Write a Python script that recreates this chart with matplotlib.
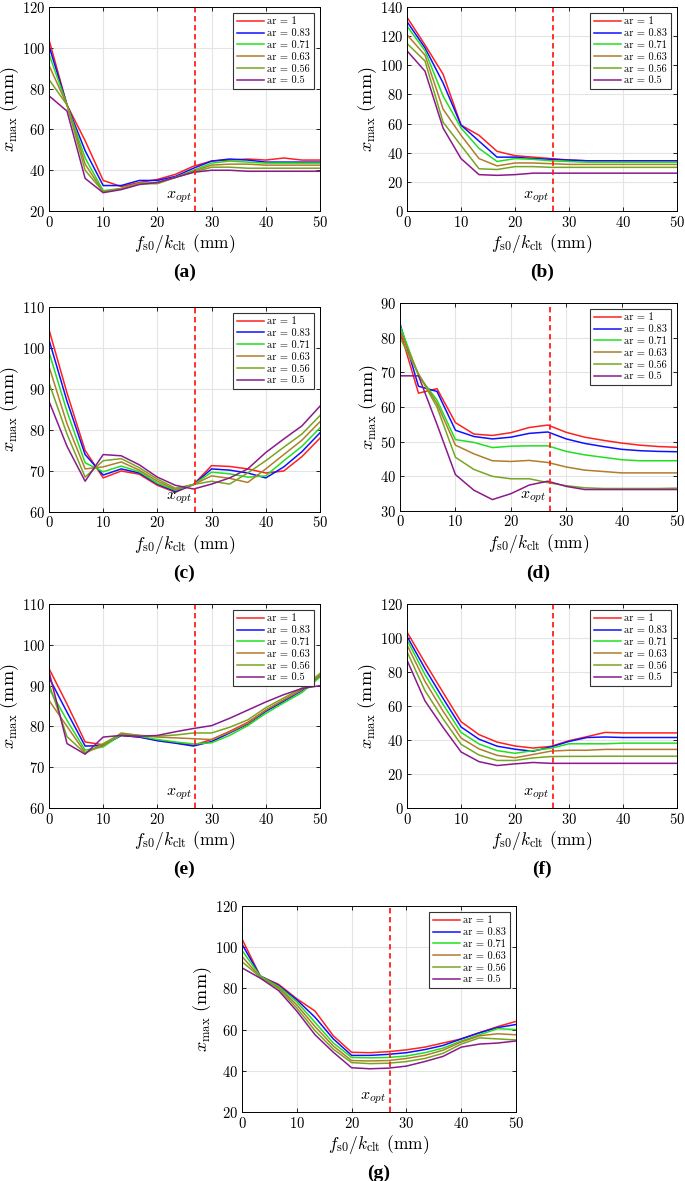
import numpy as np
import matplotlib
matplotlib.use("Agg")
import matplotlib.pyplot as plt

plt.rcParams['font.family'] = 'serif'
plt.rcParams['font.serif'] = ['cmr10']
plt.rcParams['mathtext.fontset'] = 'cm'
plt.rcParams['axes.formatter.use_mathtext'] = True

# shared abscissa f_s0/k_clt (mm)
x = [0, 3.33, 6.67, 10, 13.33, 16.67, 20, 23.33, 26.67, 30, 33.33, 36.67, 40, 43.33, 46.67, 50]
labels = ['ar = 1', 'ar = 0.83', 'ar = 0.71', 'ar = 0.63', 'ar = 0.56', 'ar = 0.5']
colors = ['#ff2020', '#1010ff', '#20e020', '#b07d2b', '#77a521', '#8b1a8b']
x_opt = 27

# (a)
a_r = [104, 72, 54.5, 35, 32, 34, 35.5, 38, 42, 44.5, 45, 45.5, 45, 46, 45, 45]
a_b = [101, 72, 49.6, 32.5, 32.5, 35, 35, 37, 41, 44.5, 45.5, 45, 44, 44, 44, 44]
a_g = [97, 72, 46, 30, 31, 33.5, 34, 36.5, 40, 43.5, 44.5, 44, 43.5, 43.5, 43.5, 43.5]
a_br = [91.5, 72, 43, 29.5, 31, 33.5, 33.5, 36.5, 39.5, 42.5, 43, 43, 42.5, 42.5, 42.5, 42.5]
a_o = [84.5, 72, 40, 29.5, 31, 33.5, 33.5, 36.5, 39, 41.5, 41.5, 41, 41, 41, 41, 41]
a_p = [76.5, 69, 36, 29, 30.5, 33, 34, 36.5, 39, 40, 40, 39.5, 39.5, 39.5, 39.5, 39.5]

# (b)
b_r = [133, 114, 94, 59, 52, 41, 38, 37, 36, 35, 34.5, 34.5, 34.5, 34.5, 34.5, 34.5]
b_b = [130, 112, 88, 59, 48, 37, 37, 36, 35.5, 35, 34.5, 34.5, 34.5, 34.5, 34.5, 34.5]
b_g = [127, 110, 79, 57, 43, 34, 36, 35.5, 34.5, 34, 33.5, 33.5, 33.5, 33.5, 33.5, 33.5]
b_br = [121, 107, 70, 52, 36, 31, 33, 33, 32.5, 32, 32, 32, 32, 32, 32, 32]
b_o = [115, 103, 61, 45, 29, 28.5, 30.5, 30.5, 30, 30, 30, 30, 30, 30, 30, 30]
b_p = [110, 96, 57, 36, 25, 24.5, 25, 26, 26, 26, 26, 26, 26, 26, 26, 26]

# (c)
c_r = [104.5, 89, 75, 68.3, 70, 69.2, 66.5, 64.8, 66.7, 71.3, 71.1, 70.5, 69.5, 70, 73.5, 78]
c_b = [102, 87, 74, 69, 70.5, 69.5, 66.8, 65, 66.7, 70.5, 70.2, 69.5, 68.3, 71, 74.7, 79.3]
c_g = [99, 84.5, 72, 69.8, 71.2, 69.8, 67, 65.3, 66.7, 69.7, 69.3, 68.5, 68.8, 72.5, 76, 80.5]
c_br = [95.5, 81.5, 70.5, 71, 72.2, 70.2, 67.5, 65.5, 66.7, 68.8, 68.2, 67.2, 70.5, 74, 77.5, 82]
c_o = [91.5, 79, 68.5, 72.5, 73, 70.8, 68, 65.8, 66.7, 67.5, 66.8, 69.5, 72.5, 75.8, 79, 83.5]
c_p = [87, 76, 67.5, 74, 73.7, 71.5, 68.5, 66.5, 65.6, 66.8, 68.3, 70.5, 74.5, 77.8, 81, 85.8]

# (d)
d_r = [82, 64, 65.3, 55.5, 52.2, 51.8, 52.6, 54.1, 54.8, 52.7, 51.3, 50.4, 49.6, 49, 48.6, 48.4]
d_b = [84, 66, 64.5, 53.3, 51.5, 50.8, 51.3, 52.4, 52.8, 50.8, 49.5, 48.6, 47.8, 47.4, 47.2, 47.1]
d_g = [83.5, 69, 62, 50.6, 49.8, 48.3, 48.7, 48.8, 48.8, 47.2, 46.2, 45.5, 44.8, 44.5, 44.5, 44.5]
d_br = [82, 69.5, 61, 49, 46.5, 44.5, 44.3, 44.6, 44, 42.7, 41.8, 41.4, 41, 41, 41, 41]
d_o = [80, 69.5, 60, 45.5, 42, 40, 39.3, 39.3, 38.2, 37.3, 36.7, 36.5, 36.5, 36.5, 36.5, 36.6]
d_p = [69, 69, 55, 40.5, 36, 33.3, 35, 37.5, 38.6, 37.1, 36.2, 36.2, 36.2, 36.2, 36.2, 36.2]

# (e)
e_r = [94.2, 85.5, 76.2, 75.5, 77.8, 77.4, 76.6, 76, 75.4, 76.8, 78.8, 81, 84, 86.5, 89, 92.5]
e_b = [92, 83.5, 75.2, 75.3, 77.8, 77.4, 76.5, 75.9, 75.2, 76.3, 78.4, 80.6, 83.7, 86.2, 88.8, 92.3]
e_g = [89.3, 81.5, 74.2, 75, 78, 77.6, 76.8, 76.2, 75.7, 76, 77.8, 80.2, 83.2, 85.8, 88.3, 92.1]
e_br = [86.4, 80, 73.6, 75.3, 78.4, 77.8, 77.4, 77.2, 77, 76.8, 78.6, 80.8, 84, 86.5, 89, 92.6]
e_o = [90.5, 77.5, 73.4, 75.8, 78.2, 77.8, 77.6, 77.9, 78.4, 78.4, 79.8, 81.6, 84.6, 87, 89.4, 93]
e_p = [93.5, 75.8, 73.2, 77.4, 77.8, 77.6, 77.8, 78.7, 79.5, 80.2, 82, 84, 86, 87.8, 89.3, 90]

# (f)
f_r = [103.5, 85.5, 68, 50.8, 43.2, 38.8, 36.5, 35.3, 36.3, 39.6, 42, 44.5, 44.2, 44.2, 44.2, 44.2]
f_b = [101, 82, 64.5, 47.7, 40.5, 36.4, 34.6, 33.4, 36, 39.2, 41.5, 41.8, 41.5, 41.5, 41.5, 41.5]
f_g = [99, 78.5, 61, 44.5, 37.7, 33.8, 32.2, 33.8, 35.2, 37.8, 37.8, 37.8, 38.2, 38.2, 38.2, 38.2]
f_br = [96, 74.5, 57, 41.2, 34.8, 31, 29.6, 31.5, 33.5, 34, 34, 34.5, 34.5, 34.5, 34.5, 34.5]
f_o = [92, 69, 52.5, 37.5, 31.2, 28, 28, 29.5, 30.3, 30.4, 30.4, 30.5, 30.5, 30.5, 30.5, 30.5]
f_p = [87, 63, 47.5, 33, 27.3, 25, 26, 26.8, 26.3, 26.3, 26.3, 26.3, 26.3, 26.3, 26.3, 26.3]

# (g)
g_r = [104, 86, 82, 75, 69, 57, 49, 48.8, 49.3, 50.2, 51.5, 53.5, 55.5, 58.5, 61.5, 64]
g_b = [101.5, 86, 81.5, 74.5, 66, 55.5, 47.5, 47.5, 48, 48.8, 50.3, 52.3, 55.5, 58.5, 61, 62.5]
g_g = [98.5, 86, 81, 73.5, 63.5, 53.5, 46.5, 46.3, 46.5, 47.2, 48.8, 51, 54.5, 57.5, 60.5, 60]
g_br = [95.5, 85.5, 80.5, 72, 61.5, 52, 45, 44.8, 45, 46, 47.5, 50, 54, 57, 58, 57.5]
g_o = [93, 85.5, 80, 70.5, 59.5, 50.5, 44, 43.5, 43.7, 44.5, 46, 48.5, 53, 56, 55.5, 55]
g_p = [90, 85, 79, 69, 57.5, 49, 41.5, 41, 41.3, 42.3, 44.5, 47, 51.5, 53, 53.5, 54.5]

panels = [
    ('(a)', [a_r, a_b, a_g, a_br, a_o, a_p], (20, 120), 20, [0.0715, 0.8213, 0.3956, 0.1727]),
    ('(b)', [b_r, b_b, b_g, b_br, b_o, b_p], (0, 140), 20, [0.5942, 0.8213, 0.3942, 0.1727]),
    ('(c)', [c_r, c_b, c_g, c_br, c_o, c_p], (60, 110), 10, [0.0715, 0.5665, 0.3956, 0.1736]),
    ('(d)', [d_r, d_b, d_g, d_br, d_o, d_p], (30, 90), 10, [0.5840, 0.5673, 0.4044, 0.1761]),
    ('(e)', [e_r, e_b, e_g, e_br, e_o, e_p], (60, 110), 10, [0.0715, 0.3158, 0.3956, 0.1727]),
    ('(f)', [f_r, f_b, f_g, f_br, f_o, f_p], (0, 120), 20, [0.5942, 0.3158, 0.3942, 0.1727]),
    ('(g)', [g_r, g_b, g_g, g_br, g_o, g_p], (20, 120), 20, [0.3533, 0.0584, 0.4000, 0.1744]),
]

fig = plt.figure(figsize=(6.85, 11.81), dpi=100)

for tag, series, ylim, ystep, pos in panels:
    ax = fig.add_axes(pos)
    for ys, c, lab in zip(series, colors, labels):
        ax.plot(x, ys, color=c, lw=1.1, label=lab)
    ax.axvline(x_opt, color='#ff2020', ls=(0, (3, 2)), lw=1.3)
    ax.set_xlim(0, 50)
    ax.set_ylim(*ylim)
    ax.set_xticks(np.arange(0, 51, 10))
    ax.set_yticks(np.arange(ylim[0], ylim[1] + 1, ystep))
    ax.grid(True, color='#e4e4e4', lw=0.8)
    ax.set_axisbelow(True)
    ax.tick_params(direction='in', top=True, right=True, labelsize=10.5, length=3, width=0.6, pad=2.5)
    for s in ax.spines.values():
        s.set_linewidth(0.7)
    ax.text(26.3, ylim[0] + 0.03 * (ylim[1] - ylim[0]), r'$x_{opt}$', ha='right', va='bottom', fontsize=11.5)
    ax.set_xlabel(r'$f_{\rm s0}/k_{\rm clt}$ (mm)', fontsize=12.5, labelpad=2)
    ax.set_ylabel(r'$x_{\rm max}$ (mm)', fontsize=13, labelpad=0.5)
    leg = ax.legend(loc='upper right', fontsize=7.5, fancybox=False, framealpha=1,
                    edgecolor='#333333', handlelength=2.6, borderpad=0.35,
                    labelspacing=0.22, handletextpad=0.3, borderaxespad=0.6)
    leg.get_frame().set_linewidth(0.8)
    ax.text(0.5, -0.3, tag, transform=ax.transAxes, ha='center', va='center',
            fontsize=14, fontweight='bold', family='Liberation Serif')

fig.savefig('out.png', dpi=100)
